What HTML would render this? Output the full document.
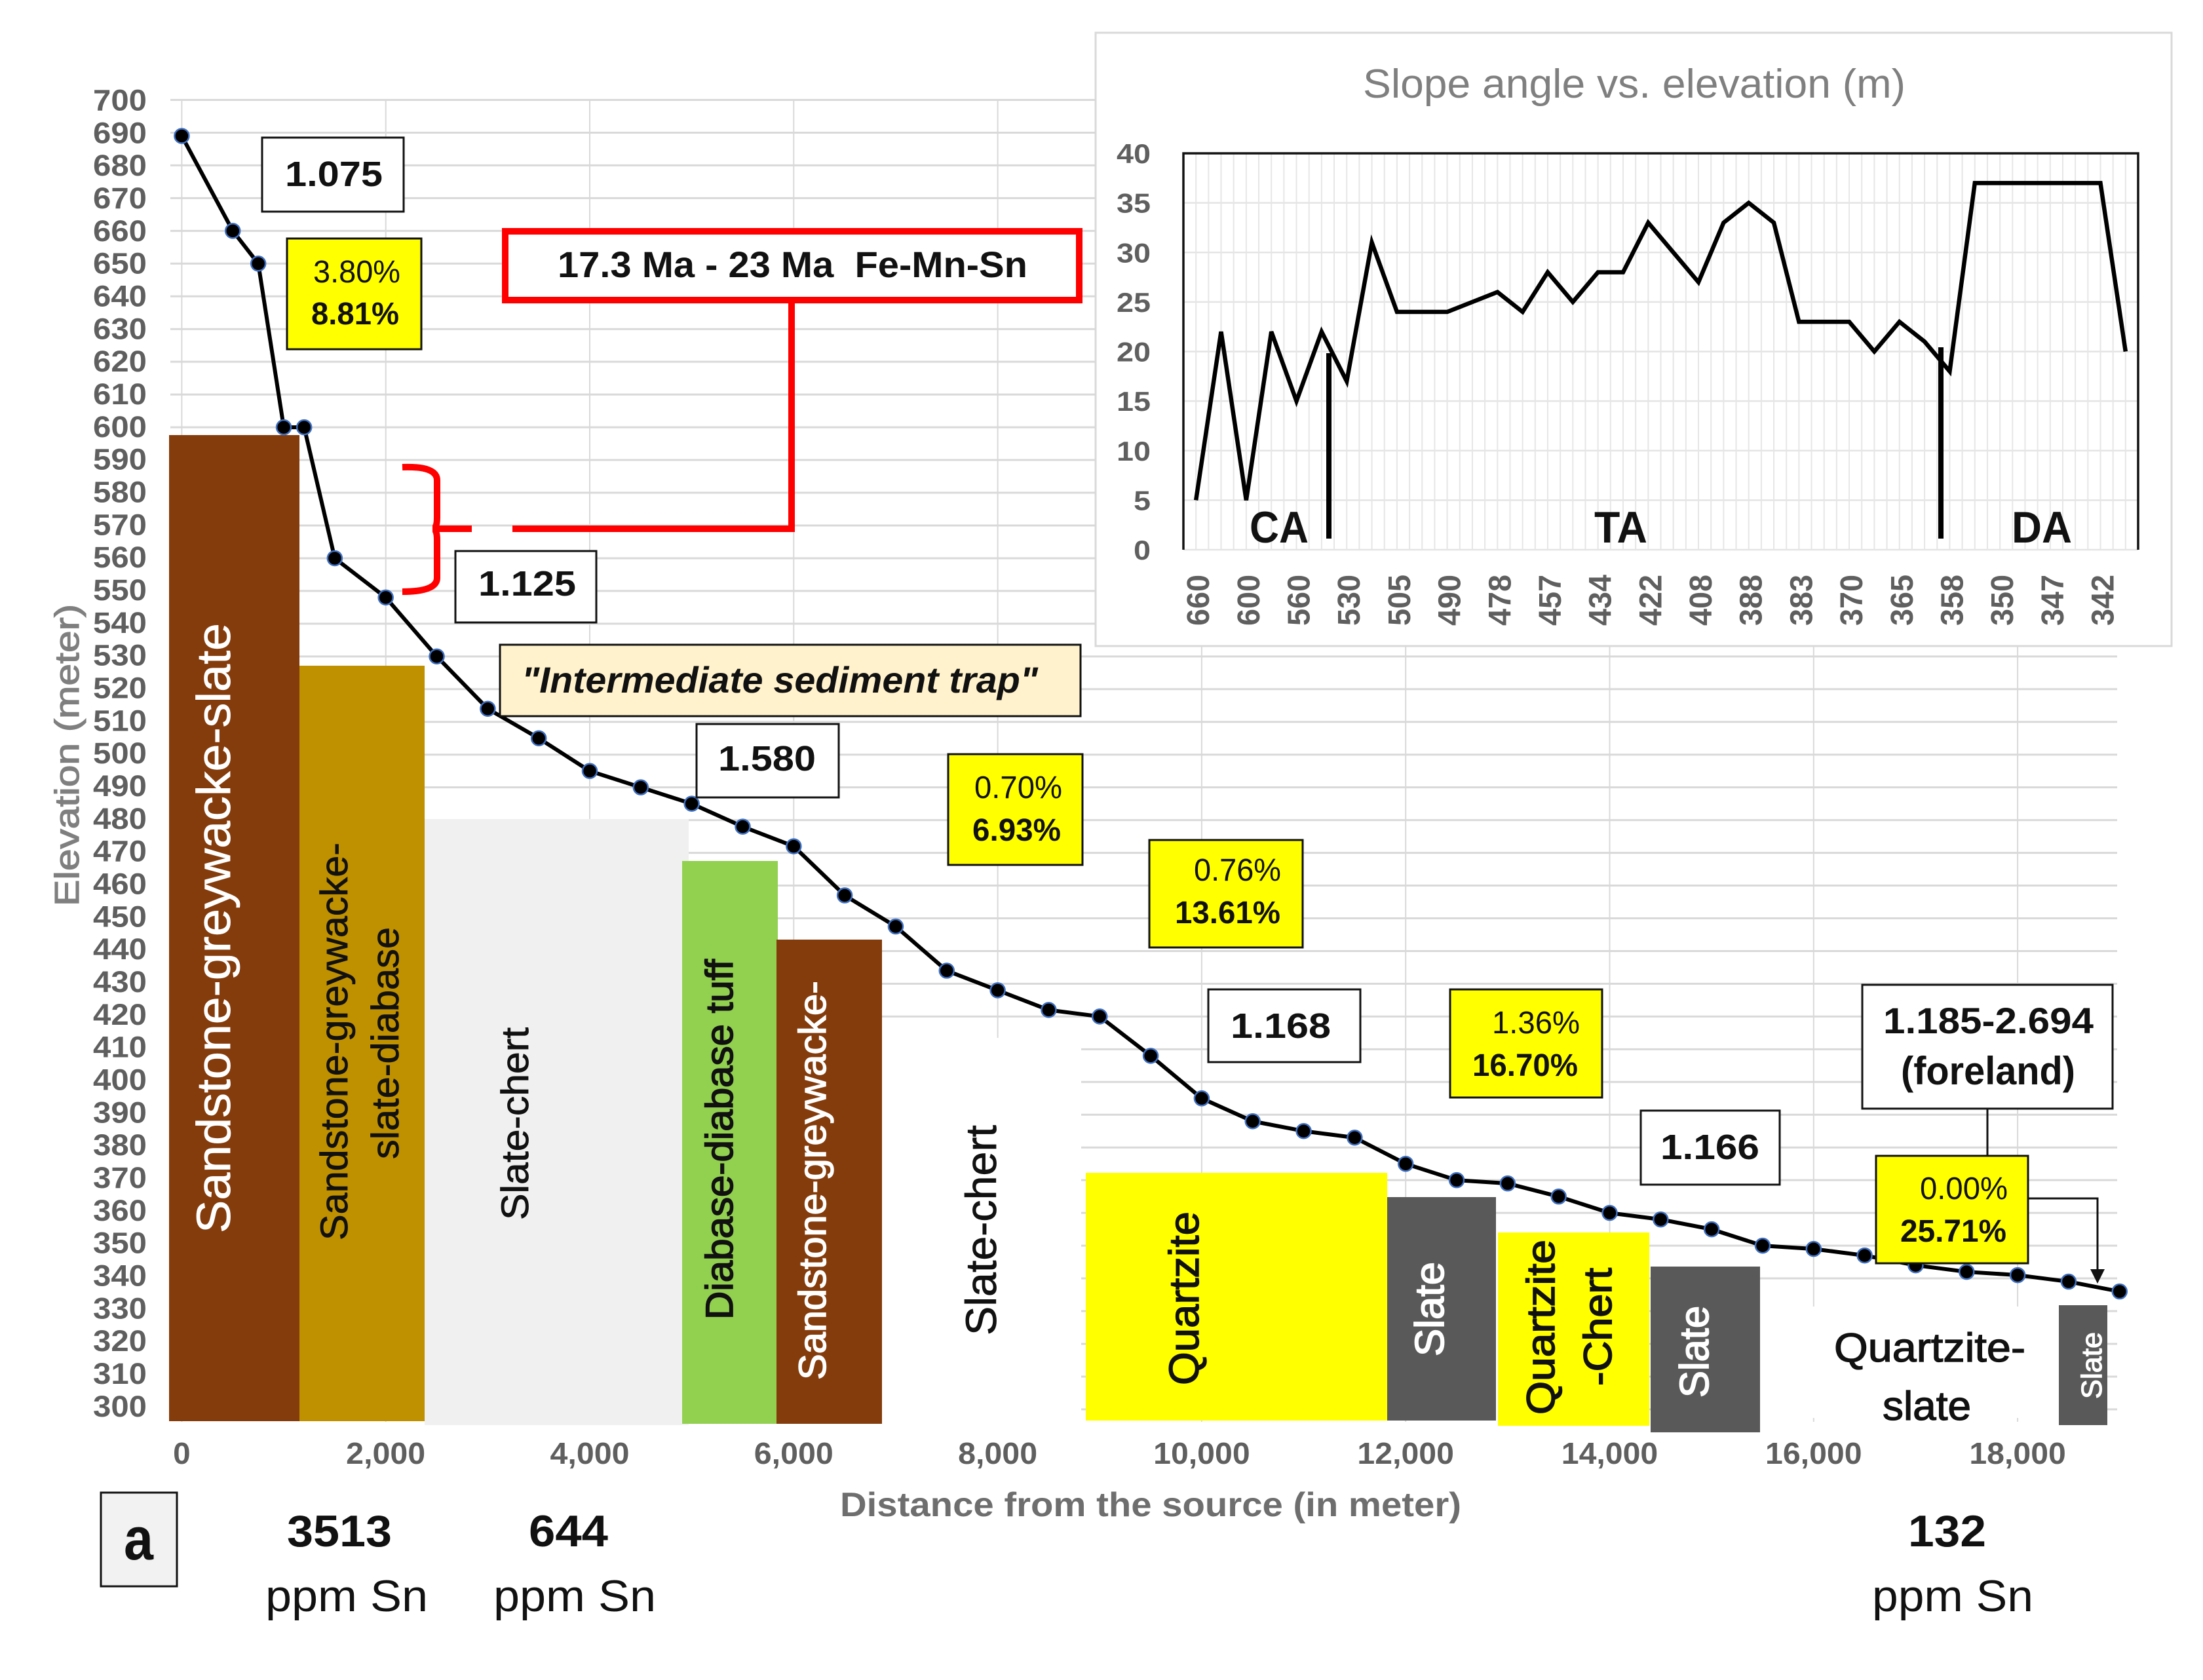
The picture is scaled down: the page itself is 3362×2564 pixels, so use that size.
<!DOCTYPE html>
<html lang="en">
<head>
<meta charset="utf-8">
<title>Elevation profile and slope angle chart</title>
<style>
html,body{margin:0;padding:0;background:#fff;}
svg{display:block;}
text{font-family:"Liberation Sans",sans-serif;}
.b{font-weight:bold;fill:#111;}
.r{fill:#111;}
.w{fill:#fff;}
</style>
</head>
<body>
<svg id="chart" xmlns="http://www.w3.org/2000/svg" width="3362" height="2564" viewBox="0 0 3362 2564">
<rect x="0" y="0" width="3362" height="2564" fill="#fff"/>

<g id="main-grid"></g>
<g id="main-y-labels"></g>
<g id="main-x-labels"></g>

<text transform="translate(120,1383) rotate(-90)" font-size="52" textLength="461" lengthAdjust="spacingAndGlyphs" fill="#7f7f7f" stroke="#7f7f7f" stroke-width="1.2">Elevation (meter)</text>
<text x="1282" y="2314" font-size="52" textLength="948" lengthAdjust="spacingAndGlyphs" fill="#6e6e6e" font-weight="bold">Distance from the source (in meter)</text>

<g>
<rect x="258" y="664" width="199" height="1505" fill="#843c0c"/>
<rect x="457" y="1016" width="191" height="1153" fill="#bf9000"/>
<rect x="648" y="1250" width="403" height="925" fill="#f0f0f0"/>
<rect x="1041" y="1314" width="146" height="859" fill="#92d050"/>
<rect x="1185" y="1434" width="161" height="739" fill="#843c0c"/>
<rect x="1346" y="1584" width="304" height="591" fill="#fff"/>
<rect x="1657" y="1790" width="460" height="378" fill="#ffff00"/>
<rect x="2117" y="1827" width="166" height="341" fill="#595959"/>
<rect x="2283" y="1881" width="3" height="295" fill="#fff"/>
<rect x="2286" y="1881" width="231" height="295" fill="#ffff00"/>
<rect x="2519" y="1933" width="167" height="253" fill="#595959"/>
<rect x="2686" y="1994" width="456" height="170" fill="#fff"/>
<rect x="3142" y="1992" width="74" height="183" fill="#595959"/>
</g>

<g>
<text class="w" transform="translate(351,1882) rotate(-90)" font-size="72" textLength="931" lengthAdjust="spacingAndGlyphs" stroke="#fff" stroke-width="0.8">Sandstone-greywacke-slate</text>
<text class="r" transform="translate(530,1893) rotate(-90)" font-size="58" textLength="607" lengthAdjust="spacingAndGlyphs" stroke="#111" stroke-width="0.8">Sandstone-greywacke-</text>
<text class="r" transform="translate(608,1769) rotate(-90)" font-size="58" textLength="354" lengthAdjust="spacingAndGlyphs" stroke="#111" stroke-width="0.8">slate-diabase</text>
<text class="r" transform="translate(806,1862) rotate(-90)" font-size="58" textLength="294" lengthAdjust="spacingAndGlyphs" stroke="#111" stroke-width="0.8">Slate-chert</text>
<text class="r" transform="translate(1118,2014) rotate(-90)" font-size="58" textLength="550" lengthAdjust="spacingAndGlyphs" stroke="#111" stroke-width="1.6">Diabase-diabase tuff</text>
<text class="w" transform="translate(1260,2106) rotate(-90)" font-size="58" textLength="609" lengthAdjust="spacingAndGlyphs" stroke="#fff" stroke-width="1.4">Sandstone-greywacke-</text>
<text class="r" transform="translate(1520,2038) rotate(-90)" font-size="66" textLength="321" lengthAdjust="spacingAndGlyphs" stroke="#111" stroke-width="0.8">Slate-chert</text>
<text class="r" transform="translate(1829,2114) rotate(-90)" font-size="64" textLength="265" lengthAdjust="spacingAndGlyphs" stroke="#111" stroke-width="1.4">Quartzite</text>
<text class="w" transform="translate(2203,2070) rotate(-90)" font-size="62" textLength="144" lengthAdjust="spacingAndGlyphs" stroke="#fff" stroke-width="1.8">Slate</text>
<text class="r" transform="translate(2372,2159) rotate(-90)" font-size="60" textLength="267" lengthAdjust="spacingAndGlyphs" stroke="#111" stroke-width="1.6">Quartzite</text>
<text class="r" transform="translate(2459,2115) rotate(-90)" font-size="60" textLength="180" lengthAdjust="spacingAndGlyphs" stroke="#111" stroke-width="1.6">-Chert</text>
<text class="w" transform="translate(2607,2133) rotate(-90)" font-size="62" textLength="140" lengthAdjust="spacingAndGlyphs" stroke="#fff" stroke-width="1.8">Slate</text>
<text class="r" x="2799" y="2078" font-size="62" textLength="292" lengthAdjust="spacingAndGlyphs" stroke="#111" stroke-width="1.3">Quartzite-</text>
<text class="r" x="2873" y="2167" font-size="62" textLength="135" lengthAdjust="spacingAndGlyphs" stroke="#111" stroke-width="1.3">slate</text>
<text class="w" transform="translate(3207,2135) rotate(-90)" font-size="44" textLength="102" lengthAdjust="spacingAndGlyphs" stroke="#fff" stroke-width="1.2">Slate</text>
</g>

<g id="profile"></g>

<g fill="none" stroke="#ff0000" stroke-width="10">
<path d="M1208 458 L1208 807 L782 807"/>
<path d="M614 713 Q667 711 667 733 L667 790 Q667 807 660 807 L720 807 M660 807 Q667 807 667 824 L667 882 Q667 903 614 903"/>
</g>
<rect x="771" y="353" width="876" height="105" fill="#fff" stroke="#ff0000" stroke-width="10"/>
<text class="b" x="851" y="423" font-size="56" textLength="717" lengthAdjust="spacingAndGlyphs" xml:space="preserve">17.3 Ma - 23 Ma  Fe-Mn-Sn</text>

<g>
<rect x="400" y="210" width="216" height="113" fill="#fff" stroke="#111" stroke-width="3"/>
<text class="b" x="435" y="284" font-size="54" textLength="149" lengthAdjust="spacingAndGlyphs">1.075</text>
<rect x="695" y="841" width="215" height="109" fill="#fff" stroke="#111" stroke-width="3"/>
<text class="b" x="730" y="909" font-size="54" textLength="149" lengthAdjust="spacingAndGlyphs">1.125</text>
<rect x="1063" y="1105" width="217" height="112" fill="#fff" stroke="#111" stroke-width="3"/>
<text class="b" x="1096" y="1176" font-size="54" textLength="149" lengthAdjust="spacingAndGlyphs">1.580</text>
<rect x="1844" y="1510" width="232" height="111" fill="#fff" stroke="#111" stroke-width="3"/>
<text class="b" x="1878" y="1584" font-size="54" textLength="153" lengthAdjust="spacingAndGlyphs">1.168</text>
<rect x="2504" y="1695" width="212" height="113" fill="#fff" stroke="#111" stroke-width="3"/>
<text class="b" x="2534" y="1769" font-size="54" textLength="151" lengthAdjust="spacingAndGlyphs">1.166</text>
<rect x="763" y="984" width="886" height="109" fill="#fff2cc" stroke="#111" stroke-width="3"/>
<text class="b" x="796" y="1057" font-size="56" font-style="italic" textLength="788" lengthAdjust="spacingAndGlyphs">"Intermediate sediment trap"</text>
<path d="M3033 1692 V1764 M3095 1829 H3201 V1940" fill="none" stroke="#111" stroke-width="3"/>
<polygon points="3190,1937 3212,1937 3201,1959" fill="#111"/>
<rect x="2842" y="1503" width="382" height="189" fill="#fff" stroke="#111" stroke-width="3"/>
<text class="b" x="2874" y="1577" font-size="56" textLength="321" lengthAdjust="spacingAndGlyphs">1.185-2.694</text>
<text class="b" x="2901" y="1655" font-size="60" textLength="266" lengthAdjust="spacingAndGlyphs">(foreland)</text>
</g>

<g>
<rect x="438" y="364" width="205" height="169" fill="#ffff00" stroke="#111" stroke-width="3"/>
<text class="r" x="478" y="431" font-size="48" textLength="133" lengthAdjust="spacingAndGlyphs">3.80%</text>
<text class="b" x="475" y="495" font-size="48" textLength="134" lengthAdjust="spacingAndGlyphs">8.81%</text>
<rect x="1447" y="1151" width="205" height="169" fill="#ffff00" stroke="#111" stroke-width="3"/>
<text class="r" x="1487" y="1218" font-size="48" textLength="134" lengthAdjust="spacingAndGlyphs">0.70%</text>
<text class="b" x="1484" y="1283" font-size="48" textLength="135" lengthAdjust="spacingAndGlyphs">6.93%</text>
<rect x="1754" y="1282" width="234" height="164" fill="#ffff00" stroke="#111" stroke-width="3"/>
<text class="r" x="1822" y="1344" font-size="48" textLength="133" lengthAdjust="spacingAndGlyphs">0.76%</text>
<text class="b" x="1793" y="1409" font-size="48" textLength="161" lengthAdjust="spacingAndGlyphs">13.61%</text>
<rect x="2213" y="1510" width="232" height="165" fill="#ffff00" stroke="#111" stroke-width="3"/>
<text class="r" x="2277" y="1577" font-size="48" textLength="134" lengthAdjust="spacingAndGlyphs">1.36%</text>
<text class="b" x="2247" y="1642" font-size="48" textLength="161" lengthAdjust="spacingAndGlyphs">16.70%</text>
<rect x="2863" y="1764" width="232" height="164" fill="#ffff00" stroke="#111" stroke-width="3"/>
<text class="r" x="2930" y="1830" font-size="48" textLength="134" lengthAdjust="spacingAndGlyphs">0.00%</text>
<text class="b" x="2900" y="1895" font-size="48" textLength="162" lengthAdjust="spacingAndGlyphs">25.71%</text>
</g>

<g>
<rect x="154" y="2278" width="116" height="143" fill="#f2f2f2" stroke="#111" stroke-width="3"/>
<text class="b" x="189" y="2380" font-size="92" textLength="45" lengthAdjust="spacingAndGlyphs">a</text>
<text class="b" x="438" y="2360" font-size="68" textLength="160" lengthAdjust="spacingAndGlyphs">3513</text>
<text class="r" x="405" y="2459" font-size="68" textLength="248" lengthAdjust="spacingAndGlyphs">ppm Sn</text>
<text class="b" x="807" y="2360" font-size="68" textLength="121" lengthAdjust="spacingAndGlyphs">644</text>
<text class="r" x="753" y="2459" font-size="68" textLength="248" lengthAdjust="spacingAndGlyphs">ppm Sn</text>
<text class="b" x="2912" y="2360" font-size="68" textLength="119" lengthAdjust="spacingAndGlyphs">132</text>
<text class="r" x="2857" y="2459" font-size="68" textLength="246" lengthAdjust="spacingAndGlyphs">ppm Sn</text>
</g>

<g>
<rect x="1672" y="50" width="1642" height="936" fill="#fff" stroke="#d9d9d9" stroke-width="3"/>
<text x="2080" y="149" font-size="62" textLength="828" lengthAdjust="spacingAndGlyphs" fill="#7f7f7f">Slope angle vs. elevation (m)</text>
<g id="inset-grid"></g>
<path d="M1806 839 V234 H3263 V839" fill="none" stroke="#111" stroke-width="3.5"/>
<g id="inset-y-labels"></g>
<g id="inset-x-labels"></g>
<g id="inset-series"></g>
<rect x="2024" y="539" width="8" height="283" fill="#000"/>
<rect x="2958" y="530" width="8" height="292" fill="#000"/>
<text class="b" x="1907" y="828" font-size="68" textLength="90" lengthAdjust="spacingAndGlyphs">CA</text>
<text class="b" x="2433" y="828" font-size="68" textLength="81" lengthAdjust="spacingAndGlyphs">TA</text>
<text class="b" x="3070" y="828" font-size="68" textLength="92" lengthAdjust="spacingAndGlyphs">DA</text>
</g>

<script>
var distances = [0,500,750,1000,1200,1500,2000,2500,3000,3500,4000,4500,5000,5500,6000,6500,7000,7500,8000,8500,9000,9500,10000,10500,11000,11500,12000,12500,13000,13500,14000,14500,15000,15500,16000,16500,17000,17500,18000,18500,19000];
var elevations = [689,660,650,600,600,560,548,530,514,505,495,490,485,478,472,457,447.5,434,428,422,420,408,395,388,385,383,375,370,369,365,360,358,355,350,349,347,344,342,341,339,336];
var yTickValues = [700,690,680,670,660,650,640,630,620,610,600,590,580,570,560,550,540,530,520,510,500,490,480,470,460,450,440,430,420,410,400,390,380,370,360,350,340,330,320,310,300];
var xTickValues = [0,2000,4000,6000,8000,10000,12000,14000,16000,18000];
var xTickLabels = ["0","2,000","4,000","6,000","8,000","10,000","12,000","14,000","16,000","18,000"];
var slopeValues = [5,22,5,22,15,22,17,31,24,24,24,25,26,24,28,25,28,28,33,30,27,33,35,33,23,23,23,20,23,21,18,37,37,37,37,37,37,20];
var slopeCategoryLabels = ["660","600","560","530","505","490","478","457","434","422","408","388","383","370","365","358","350","347","342"];
var slopeTickValues = [0,5,10,15,20,25,30,35,40];

var NS = "http://www.w3.org/2000/svg";
function xScale(d){ return 277.4 + d * 0.15565; }
function yScale(v){ return 152.5 + (700 - v) * 4.996; }
function insetY(v){ return 839 - v * 15.125; }
function insetX(i){ return 1806 + (i + 0.5) * (1457 / slopeValues.length); }
function make(tag, parent){
  var el = document.createElementNS(NS, tag);
  document.getElementById(parent).appendChild(el);
  return el;
}
function place(el, attrs){
  for (var k in attrs) { el.setAttribute(k, attrs[k]); }
  return el;
}

yTickValues.forEach(function(v){
  var line = make("line", "main-grid");
  
  
  place(line, {x1:260, x2:3231, y1:yScale(v), y2:yScale(v), stroke:"#d9d9d9", "stroke-width":3});
  var t = make("text", "main-y-labels");
  
  
  place(t, {x:142, y:yScale(v) - (700 - v) / 80 + 16, "font-size":45, "font-weight":"bold", fill:"#5f5f5f", textLength:82, lengthAdjust:"spacingAndGlyphs"});
  t.textContent = String(v);
});

xTickValues.forEach(function(d, i){
  var line = make("line", "main-grid");
  
  
  place(line, {x1:xScale(d), x2:xScale(d), y1:152, y2:2170, stroke:"#d9d9d9", "stroke-width":2});
  var label = xTickLabels[i];
  var digits = label.replace(/,/g, "").length;
  var w = digits * 26.5 + (label.indexOf(",") >= 0 ? 15 : 0);
  var t = make("text", "main-x-labels");
  
  
  place(t, {x:xScale(d) - w / 2, y:2234, "font-size":46, "font-weight":"bold", fill:"#5f5f5f", textLength:w, lengthAdjust:"spacingAndGlyphs"});
  t.textContent = label;
});

var profilePts = distances.map(function(d, i){ return xScale(d) + "," + yScale(elevations[i]); }).join(" ");
var profileLine = make("polyline", "profile");


place(profileLine, {points:profilePts, fill:"none", stroke:"#000", "stroke-width":6, "stroke-linejoin":"round"});
distances.forEach(function(d, i){
  var c = make("circle", "profile");
  
  
  place(c, {cx:xScale(d), cy:yScale(elevations[i]), r:11, fill:"#000", stroke:"#3f6fc0", "stroke-width":2.5});
});

slopeTickValues.forEach(function(v){
  var line = make("line", "inset-grid");
  
  
  place(line, {x1:1806, x2:3263, y1:insetY(v), y2:insetY(v), stroke:"#e4e4e4", "stroke-width":2.5});
  var s = String(v);
  var w = s.length * 26;
  var t = make("text", "inset-y-labels");
  
  
  place(t, {x:1756 - w, y:insetY(v) + 15, "font-size":42, "font-weight":"bold", fill:"#5f5f5f", textLength:w, lengthAdjust:"spacingAndGlyphs"});
  t.textContent = s;
});
slopeValues.forEach(function(v, i){
  var step = 1457 / slopeValues.length;
  var edge = make("line", "inset-grid");
  
  
  place(edge, {x1:insetX(i) + step / 2, x2:insetX(i) + step / 2, y1:234, y2:839, stroke:"#e6e6e6", "stroke-width":2});
  var mid = make("line", "inset-grid");
  
  
  place(mid, {x1:insetX(i), x2:insetX(i), y1:234, y2:839, stroke:"#e6e6e6", "stroke-width":2});
});
slopeCategoryLabels.forEach(function(label, i){
  var t = make("text", "inset-x-labels");
  
  
  place(t, {transform:"translate(" + (insetX(i * 2) + 20) + ",955) rotate(-90)", "font-size":48, "font-weight":"bold", fill:"#5f5f5f", textLength:78, lengthAdjust:"spacingAndGlyphs"});
  t.textContent = label;
});
var slopeLine = make("polyline", "inset-series");


place(slopeLine, {points:slopeValues.map(function(v, i){ return insetX(i) + "," + insetY(v); }).join(" "), fill:"none", stroke:"#000", "stroke-width":6.5, "stroke-linejoin":"miter"});
</script>
</svg>
</body>
</html>
